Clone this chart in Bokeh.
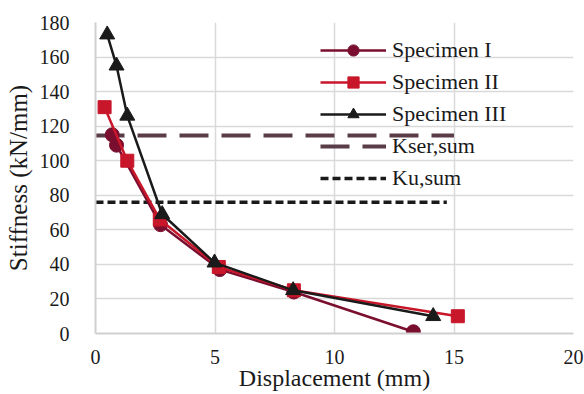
from bokeh.plotting import figure
from bokeh.models import Range1d, Legend, LegendItem, FixedTicker
from bokeh.embed import file_html
from bokeh.resources import INLINE

# Data
s1_x = [0.70, 0.88, 2.72, 5.2, 8.3, 13.3]
s1_y = [115, 109, 63, 37, 24, 1]
s2_x = [0.38, 1.33, 2.69, 5.16, 8.3, 15.16]
s2_y = [131, 100, 66, 38.5, 25, 10]
s3_x = [0.49, 0.88, 1.33, 2.79, 4.98, 8.27, 14.13]
s3_y = [173, 155, 126, 69, 41, 25, 10]
kser_x = [0, 15]
kser_y = [114.6, 114.6]
ku_x = [0, 14.7]
ku_y = [76, 76]
x_ticks = [0, 5, 10, 15, 20]
y_ticks = [0, 20, 40, 60, 80, 100, 120, 140, 160, 180]

FONT = "Liberation Serif"
C1 = "#7A0E2E"
C2 = "#C8162A"
C3 = "#1A1A1A"
CK = "#5A3C48"

p = figure(width=584, height=394, output_backend="svg", toolbar_location=None,
           x_range=Range1d(0, 20), y_range=Range1d(0, 180),
           min_border_left=95, min_border_right=11, min_border_top=22, min_border_bottom=61)
p.outline_line_color = None
p.background_fill_color = "white"
p.border_fill_color = "white"

for ax in (p.xaxis[0], p.yaxis[0]):
    ax.axis_line_color = "#D0D0D0"
    ax.axis_line_width = 2
    ax.major_tick_line_color = None
    ax.minor_tick_line_color = None
    ax.major_label_text_font = FONT
    ax.major_label_text_font_size = "20px"
    ax.major_label_text_color = "#1A1A1A"
    ax.axis_label_text_font = FONT
    ax.axis_label_text_font_style = "normal"
    ax.axis_label_text_color = "#1A1A1A"
p.xaxis[0].axis_label_text_font_size = "24px"
p.yaxis[0].axis_label_text_font_size = "25px"
p.xaxis[0].ticker = FixedTicker(ticks=x_ticks)
p.yaxis[0].ticker = FixedTicker(ticks=y_ticks)
p.xaxis[0].axis_label = "Displacement (mm)"
p.yaxis[0].axis_label = "Stiffness (kN/mm)"
p.xaxis[0].major_label_standoff = 10
p.yaxis[0].major_label_standoff = 20
p.xaxis[0].axis_label_standoff = -2
p.yaxis[0].axis_label_standoff = 5

p.xgrid.grid_line_color = "#D9D9D9"
p.ygrid.grid_line_color = "#D9D9D9"
p.xgrid.grid_line_width = 1.5
p.ygrid.grid_line_width = 1.5
p.xgrid.ticker = FixedTicker(ticks=x_ticks)
p.ygrid.ticker = FixedTicker(ticks=y_ticks)

kl = p.line(kser_x, kser_y, line_color=CK, line_width=4, line_dash="29 13")
ul = p.line(ku_x, ku_y, line_color=C3, line_width=3.5, line_dash="8 4")

l1 = p.line(s1_x, s1_y, line_color=C1, line_width=2.5)
m1 = p.scatter(s1_x, s1_y, marker="circle", size=14, fill_color=C1, line_color=C1)
l2 = p.line(s2_x, s2_y, line_color=C2, line_width=2.5)
m2 = p.scatter(s2_x, s2_y, marker="square", size=13, fill_color=C2, line_color=C2)
l3 = p.line(s3_x, s3_y, line_color=C3, line_width=2.5)
m3 = p.scatter(s3_x, s3_y, marker="triangle", size=15, fill_color=C3, line_color=C3)

legend = Legend(items=[
    LegendItem(label="Specimen I", renderers=[l1, m1]),
    LegendItem(label="Specimen II", renderers=[l2, m2]),
    LegendItem(label="Specimen III", renderers=[l3, m3]),
    LegendItem(label="Kser,sum", renderers=[kl]),
    LegendItem(label="Ku,sum", renderers=[ul]),
], location=(225, 141))
legend.border_line_color = None
legend.background_fill_alpha = 0
legend.margin = 0
legend.padding = 0
legend.spacing = 4
legend.glyph_width = 66
legend.glyph_height = 28
legend.label_height = 28
legend.label_standoff = 6
legend.label_text_font = FONT
legend.label_text_font_size = "22px"
legend.label_text_color = "#1A1A1A"
p.add_layout(legend, "center")

open("out.html", "w").write(file_html(p, INLINE))
